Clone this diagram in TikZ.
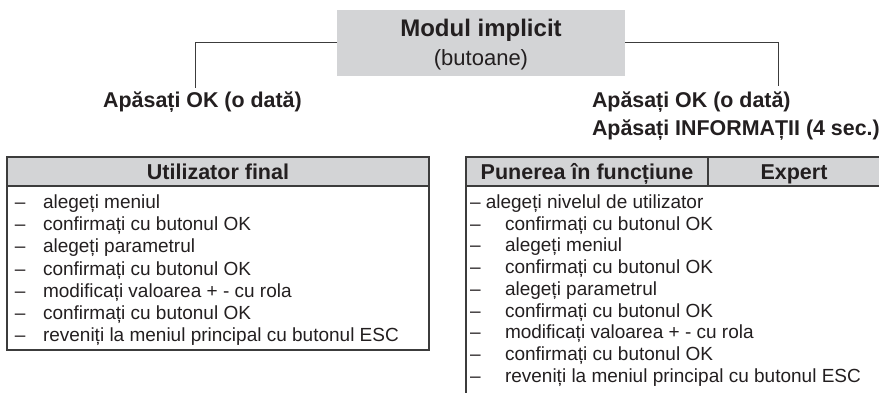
\documentclass[tikz,border=0pt]{standalone}
\usepackage{fontspec}
\setmainfont{Liberation Sans}
\definecolor{hdr}{RGB}{211,212,214}
\definecolor{ln}{RGB}{60,60,60}
\definecolor{tx}{RGB}{35,31,32}
\begin{document}
\begin{tikzpicture}[x=1pt,y=-1pt,
  every node/.style={text=tx, inner sep=0pt, outer sep=0pt},
  titlefont/.style={font=\fontsize{24}{28}\selectfont\bfseries, anchor=base},
  subfont/.style={font=\fontsize{22}{26}\selectfont, anchor=base},
  lbl/.style={font=\fontsize{21.4}{26}\selectfont\bfseries},
  hd/.style={draw=ln, line width=1.2pt, fill=hdr, font=\fontsize{21.5}{26}\selectfont\bfseries,
             minimum height=29pt, text height=15.4pt, text depth=0pt},
  body/.style={draw=ln, line width=1.2pt},
  item/.style={font=\fontsize{19}{22}\selectfont, anchor=base west},
  conn/.style={draw=ln, line width=1pt}]
\useasboundingbox (0,0) rectangle (879,392);
\clip (0,0) rectangle (879,392);

% top box
\node[fill=hdr, minimum width=288pt, minimum height=66pt] (mod) at (481,42.5) {};
\node[titlefont] (t1) at (481,36.5) {Modul implicit};
\node[subfont] (t2) at (481,65.5) {(butoane)};

% labels
\node[lbl, anchor=base] (la) at (202.5,107) {Apăsați OK (o dată)};
\node[lbl, anchor=base west] (rb1) at (592,107) {Apăsați OK (o dată)};
\node[lbl, anchor=base west] (rb2) at (592,135) {Apăsați INFORMAȚII (4 sec.)};

% connectors
\coordinate (cl) at (195,88);
\coordinate (cr) at (778,86);
\draw[conn] (mod.west) -| (cl);
\draw[conn] (mod.east) -| (cr);

% left table
\node[hd, minimum width=422pt] (uh) at (218,171.5) {Utilizator final};
\node[body, minimum width=422pt, minimum height=164pt, anchor=north] (ub) at (uh.south) {};
\foreach \t [count=\i from 0] in {alegeți meniul, confirmați cu butonul OK, alegeți parametrul,
  confirmați cu butonul OK, modificați valoarea + - cu rola, confirmați cu butonul OK,
  reveniți la meniul principal cu butonul ESC} {
  \node[item] (ld\i) at (15,208.5+22.2*\i) {–};
  \node[item] (lt\i) at (43,208.5+22.2*\i) {\t};
}

% right table
\node[hd, minimum width=242pt] (ph) at (587,171.5) {Punerea în funcțiune};
\node[hd, minimum width=172pt] (eh) at (794,171.5) {Expert};
\node[body, minimum width=414pt, minimum height=230pt, anchor=north west] (pb) at (ph.south west) {};
\node[item] (r0) at (470,208.5) {– alegeți nivelul de utilizator};
\foreach \t [count=\i from 1] in {confirmați cu butonul OK, alegeți meniul, confirmați cu butonul OK,
  alegeți parametrul, confirmați cu butonul OK, modificați valoarea + - cu rola,
  confirmați cu butonul OK, reveniți la meniul principal cu butonul ESC} {
  \node[item] (rd\i) at (470,208.5+21.7*\i) {–};
  \node[item] (rt\i) at (505,208.5+21.7*\i) {\t};
}
\end{tikzpicture}
\end{document}
